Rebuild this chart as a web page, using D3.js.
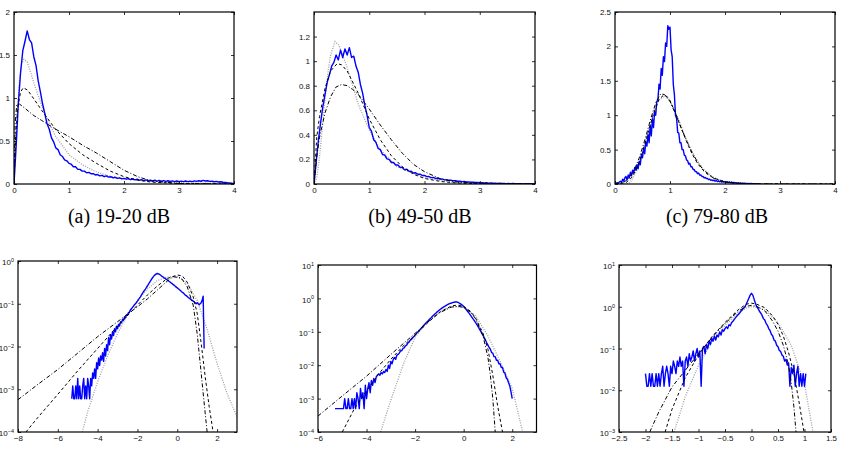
<!DOCTYPE html>
<html>
<head>
<meta charset="utf-8">
<script src="https://cdn.jsdelivr.net/npm/d3@7"></script>
<style>
body { margin: 0; background: #fff; }
svg { display: block; }
</style>
</head>
<body>
<script>
// ---- data ----
const captions = ["(a) 19-20 dB", "(b) 49-50 dB", "(c) 79-80 dB"];

// measured histograms (blue), bins start at x0 with width dx
const aBlue = { x0: 0, dx: 0.04, v: [
  0, 0.45, 0.95, 1.30, 1.55, 1.66, 1.78, 1.68, 1.64, 1.48,
  1.38, 1.20, 1.07, 0.93, 0.82, 0.70, 0.64, 0.54, 0.49, 0.42,
  0.40, 0.34, 0.32, 0.28, 0.27, 0.24, 0.23, 0.20, 0.20, 0.17,
  0.17, 0.15, 0.15, 0.13, 0.135, 0.12, 0.12, 0.105, 0.11, 0.095,
  0.10, 0.085, 0.095, 0.08, 0.085, 0.072, 0.078, 0.065, 0.072, 0.06,
  0.066, 0.056, 0.062, 0.05, 0.058, 0.048, 0.055, 0.045, 0.05, 0.04,
  0.048, 0.038, 0.045, 0.036, 0.044, 0.034, 0.042, 0.032, 0.04, 0.03,
  0.038, 0.029, 0.036, 0.028, 0.035, 0.027, 0.034, 0.027, 0.035, 0.028,
  0.034, 0.028, 0.036, 0.03, 0.038, 0.032, 0.042, 0.035, 0.038, 0.03,
  0.032, 0.026, 0.03, 0.023, 0.026, 0.02, 0.018, 0.014, 0.012, 0.008,
  0.004] };

const bBlue = { x0: 0, dx: 0.04, v: [
  0, 0.18, 0.36, 0.50, 0.63, 0.73, 0.83, 0.89, 0.96, 0.99,
  1.05, 1.01, 1.09, 1.03, 1.10, 1.05, 1.11, 1.03, 1.04, 0.96,
  0.91, 0.81, 0.74, 0.64, 0.56, 0.46, 0.43, 0.36, 0.34, 0.29,
  0.28, 0.24, 0.235, 0.205, 0.2, 0.175, 0.175, 0.155, 0.155, 0.135,
  0.135, 0.115, 0.12, 0.103, 0.104, 0.09, 0.092, 0.079, 0.08, 0.069,
  0.07, 0.06, 0.061, 0.052, 0.054, 0.045, 0.047, 0.04, 0.041, 0.034,
  0.036, 0.03, 0.031, 0.026, 0.027, 0.022, 0.023, 0.019, 0.02, 0.016,
  0.017, 0.014, 0.015, 0.012, 0.013, 0.01, 0.011, 0.008, 0.01, 0.007,
  0.008, 0.006, 0.007, 0.005, 0.006, 0.004, 0.005, 0.003, 0.005, 0.003,
  0.004, 0.002, 0.003, 0.002, 0.003, 0.001, 0.002, 0.002, 0.001, 0.001,
  0.001] };

const cBlue = { x0: 0, dx: 0.02, v: [
  0, 0.01, 0.02, 0.01, 0.03, 0.04, 0.02, 0.07, 0.04, 0.09,
  0.11, 0.06, 0.13, 0.09, 0.17, 0.12, 0.20, 0.16, 0.24, 0.20,
  0.28, 0.22, 0.33, 0.28, 0.43, 0.38, 0.52, 0.44, 0.61, 0.55,
  0.72, 0.60, 0.85, 0.70, 0.95, 0.82, 1.05, 1.00, 1.20, 1.22,
  1.45, 1.38, 1.68, 1.58, 1.85, 1.78, 2.05, 2.00, 2.30, 2.25,
  2.28, 1.95, 1.85, 1.45, 1.30, 1.00, 0.95, 0.75, 0.74, 0.60,
  0.60, 0.50, 0.50, 0.42, 0.41, 0.35, 0.34, 0.29, 0.30, 0.25,
  0.25, 0.21, 0.21, 0.18, 0.18, 0.15, 0.16, 0.13, 0.13, 0.11,
  0.11, 0.09, 0.095, 0.08, 0.08, 0.065, 0.07, 0.055, 0.06, 0.048,
  0.055, 0.04, 0.05, 0.036, 0.045, 0.032, 0.04, 0.028, 0.037, 0.026,
  0.034, 0.022, 0.032, 0.02, 0.03, 0.016, 0.028, 0.014, 0.024, 0.012,
  0.02, 0.01, 0.018, 0.009, 0.016, 0.008, 0.014, 0.007, 0.012, 0.006,
  0.01, 0.005, 0.008, 0.004, 0.007, 0.003, 0.005, 0.002, 0.004, 0.002,
  0.002] };

const dBlue = { x0: -5.3, dx: 0.05, v: [
  6e-4, 1.2e-3, 6e-4, 6e-4, 1.2e-3, 6e-4, 1.8e-3, 6e-4, 1.2e-3, 6e-4,
  6e-4, 1.2e-3, 1.8e-3, 6e-4, 1.2e-3, 6e-4, 1.8e-3, 1.2e-3, 6e-4, 1.8e-3,
  1.2e-3, 2.4e-3, 1.8e-3, 3e-3, 1.8e-3, 4.2e-3, 3e-3, 5.4e-3, 3.6e-3, 6e-3,
  4.8e-3, 7.2e-3, 4.5e-3, 9e-3, 6e-3, 0.011, 0.008, 0.016, 0.011, 0.019,
  0.015, 0.022, 0.018, 0.026, 0.022, 0.03, 0.026, 0.033, 0.03, 0.038,
  0.036, 0.043, 0.041, 0.049, 0.047, 0.055, 0.054, 0.062, 0.064, 0.072,
  0.076, 0.082, 0.088, 0.095, 0.1, 0.107, 0.115, 0.125, 0.135, 0.145,
  0.16, 0.175, 0.19, 0.205, 0.22, 0.24, 0.26, 0.285, 0.31, 0.34,
  0.37, 0.40, 0.43, 0.46, 0.48, 0.50, 0.51, 0.50, 0.49, 0.47,
  0.45, 0.43, 0.42, 0.40, 0.39, 0.37, 0.36, 0.345, 0.33, 0.32,
  0.305, 0.295, 0.28, 0.27, 0.255, 0.245, 0.235, 0.225, 0.215, 0.205,
  0.195, 0.185, 0.18, 0.17, 0.16, 0.155, 0.148, 0.14, 0.135, 0.13,
  0.125, 0.12, 0.115, 0.11, 0.105, 0.10, 0.105, 0.10, 0.095, 0.10,
  0.105, 0.12, 0.15, 0.009] };

const eBlue = { x0: -5.3, dx: 0.05, v: [
  5e-4, 5e-4, 5e-4, 5e-4, 5e-4, 5e-4, 5e-4, 5e-4, 1e-3, 5e-4,
  5e-4, 1e-3, 5e-4, 5e-4, 1e-3, 5e-4, 1e-3, 5e-4, 1.5e-3, 1e-3,
  5e-4, 2e-3, 1e-3, 1.5e-3, 5e-4, 2.5e-3, 1e-3, 2e-3, 3e-3, 1.5e-3,
  3.5e-3, 2.5e-3, 4e-3, 3e-3, 4.5e-3, 5e-3, 5.5e-3, 5e-3, 6e-3, 5.5e-3,
  6.5e-3, 6e-3, 7.5e-3, 6.5e-3, 1e-2, 8e-3, 1.3e-2, 1.1e-2, 1.5e-2, 1.7e-2,
  1.5e-2, 2e-2, 2.1e-2, 2.3e-2, 2.7e-2, 2.7e-2, 3.2e-2, 3.3e-2, 3.8e-2, 4e-2,
  4.6e-2, 4.9e-2, 5.6e-2, 5.9e-2, 6.7e-2, 7.2e-2, 8e-2, 8.8e-2, 9.7e-2, 0.106,
  0.116, 0.127, 0.14, 0.155, 0.17, 0.185, 0.2, 0.22, 0.24, 0.26,
  0.285, 0.31, 0.335, 0.36, 0.39, 0.42, 0.45, 0.48, 0.51, 0.54,
  0.57, 0.6, 0.63, 0.66, 0.69, 0.71, 0.73, 0.75, 0.77, 0.78,
  0.79, 0.77, 0.74, 0.7, 0.66, 0.62, 0.57, 0.52, 0.47, 0.42,
  0.38, 0.34, 0.3, 0.265, 0.235, 0.21, 0.185, 0.16, 0.14, 0.12,
  0.105, 0.09, 0.078, 0.066, 0.056, 0.047, 0.04, 0.034, 0.03, 0.024,
  0.023, 0.018, 0.018, 0.014, 0.014, 0.011, 0.011, 0.0085, 0.0085, 0.0062,
  0.0058, 0.0042, 0.0038, 0.003, 0.0024, 0.0016, 0.001] };

const fBlue = { x0: -2.0, dx: 0.025, v: [
  0.025, 0.0125, 0.0125, 0.025, 0.0125, 0.025, 0.0125, 0.0125, 0.025, 0.0125,
  0.025, 0.0125, 0.025, 0.0375, 0.0125, 0.025, 0.0375, 0.025, 0.0125, 0.0375,
  0.025, 0.05, 0.0375, 0.025, 0.05, 0.0375, 0.0625, 0.0375, 0.05, 0.0125,
  0.05, 0.0625, 0.0375, 0.075, 0.05, 0.0625, 0.0875, 0.05, 0.075, 0.1,
  0.0625, 0.0875, 0.0125, 0.1, 0.1125, 0.075, 0.125, 0.1, 0.15, 0.125,
  0.175, 0.15, 0.2, 0.16, 0.21, 0.19, 0.25, 0.21, 0.28, 0.26,
  0.3, 0.33, 0.3, 0.37, 0.35, 0.42, 0.45, 0.5, 0.55, 0.6,
  0.65, 0.7, 0.78, 0.85, 0.92, 1.0, 1.15, 1.35, 1.6, 1.9,
  2.1, 1.9, 1.5, 1.2, 1.0, 0.9, 0.78, 0.7, 0.62, 0.52,
  0.48, 0.4, 0.36, 0.3, 0.27, 0.22, 0.2, 0.16, 0.15, 0.12,
  0.11, 0.09, 0.085, 0.07, 0.065, 0.05, 0.055, 0.04, 0.045, 0.0125,
  0.035, 0.025, 0.04, 0.0125, 0.025, 0.0375, 0.0125, 0.025, 0.0125, 0.025,
  0.0125, 0.025] };

// fitted models: dashed, dash-dot, dotted
const aDashedX = [0, 0.03, 0.07, 0.12, 0.17, 0.25, 0.35, 0.5, 0.75, 1.0, 1.25, 1.5, 1.75, 2.0, 2.25, 2.5, 3.0, 3.5, 4.0];
const aDashedY = [0, 0.55, 0.9, 1.07, 1.12, 1.09, 1.0, 0.86, 0.64, 0.47, 0.34, 0.24, 0.15, 0.085, 0.045, 0.022, 0.006, 0.002, 0.001];
const aDashDotX = [0, 0.02, 0.05, 0.1, 0.2, 0.35, 0.5, 0.75, 1.0, 1.25, 1.5, 1.75, 2.0, 2.25, 2.5, 3.0, 4.0];
const aDashDotY = [0, 0.7, 0.92, 0.93, 0.88, 0.8, 0.74, 0.64, 0.55, 0.45, 0.36, 0.26, 0.16, 0.085, 0.035, 0.006, 0];
const aDottedX = [0, 0.05, 0.1, 0.14, 0.18, 0.24, 0.3, 0.4, 0.5, 0.6, 0.75, 1.0, 1.25, 1.5, 1.75, 2.0, 2.5, 3.0, 4.0];
const aDottedY = [0, 0.75, 1.2, 1.4, 1.45, 1.42, 1.3, 1.1, 0.92, 0.76, 0.56, 0.34, 0.22, 0.14, 0.09, 0.06, 0.03, 0.015, 0.004];

const bDashedX = [0, 0.05, 0.1, 0.2, 0.3, 0.42, 0.5, 0.6, 0.7, 0.8, 1.0, 1.2, 1.4, 1.6, 1.8, 2.0, 2.3, 2.6, 3.0, 4.0];
const bDashedY = [0, 0.38, 0.55, 0.78, 0.92, 0.98, 0.97, 0.92, 0.83, 0.74, 0.53, 0.36, 0.23, 0.14, 0.08, 0.045, 0.02, 0.008, 0.002, 0];
const bDashDotX = [0, 0.05, 0.1, 0.2, 0.3, 0.4, 0.5, 0.6, 0.7, 0.8, 1.0, 1.2, 1.4, 1.6, 1.8, 2.0, 2.3, 2.6, 3.0, 4.0];
const bDashDotY = [0, 0.22, 0.38, 0.58, 0.71, 0.79, 0.81, 0.8, 0.77, 0.73, 0.61, 0.48, 0.36, 0.25, 0.16, 0.1, 0.04, 0.015, 0.004, 0];
const bDottedX = [0, 0.05, 0.1, 0.15, 0.2, 0.25, 0.3, 0.38, 0.45, 0.6, 0.8, 1.0, 1.2, 1.5, 2.0, 2.5, 3.0, 4.0];
const bDottedY = [0, 0.05, 0.22, 0.45, 0.7, 0.9, 1.05, 1.16, 1.13, 0.95, 0.65, 0.44, 0.28, 0.14, 0.05, 0.015, 0.005, 0];

const cDashedX = [0, 0.2, 0.3, 0.4, 0.5, 0.6, 0.7, 0.8, 0.88, 0.95, 1.0, 1.1, 1.2, 1.3, 1.4, 1.5, 1.6, 1.7, 1.8, 2.0, 2.2, 2.5, 3.0, 4.0];
const cDashedY = [0, 0.02, 0.09, 0.23, 0.46, 0.74, 1.02, 1.23, 1.29, 1.27, 1.21, 1.03, 0.82, 0.62, 0.44, 0.3, 0.2, 0.13, 0.085, 0.03, 0.01, 0.003, 0.001, 0];
const cDashDotX = [0, 0.15, 0.25, 0.35, 0.45, 0.55, 0.65, 0.75, 0.83, 0.9, 1.0, 1.1, 1.2, 1.3, 1.4, 1.5, 1.6, 1.8, 2.0, 2.3, 3.0, 4.0];
const cDashDotY = [0, 0.02, 0.08, 0.2, 0.4, 0.66, 0.95, 1.2, 1.31, 1.3, 1.2, 1.02, 0.82, 0.63, 0.46, 0.32, 0.21, 0.08, 0.03, 0.006, 0, 0];
const cDottedX = [0, 0.24, 0.3, 0.4, 0.5, 0.6, 0.7, 0.8, 0.9, 1.0, 1.1, 1.2, 1.3, 1.4, 1.5, 1.6, 1.8, 2.0, 2.3, 3.0, 4.0];
const cDottedY = [0, 0, 0.05, 0.2, 0.45, 0.75, 1.03, 1.22, 1.28, 1.22, 1.05, 0.85, 0.65, 0.47, 0.33, 0.22, 0.09, 0.035, 0.008, 0, 0];

const dDashedX = [-7.6, -7, -6, -5, -4, -3, -2, -1.5, -1, -0.5, 0, 0.25, 0.5, 0.8, 1.0, 1.2, 1.4, 1.6, 1.8];
const dDashedY = [1e-4, 2.2e-4, 7.6e-4, 2.7e-3, 9e-3, 0.03, 0.093, 0.16, 0.26, 0.39, 0.47, 0.45, 0.32, 0.145, 0.06, 0.012, 2e-3, 4e-4, 1e-4];
const dDashDotX = [-8, -7, -6, -5, -4, -3, -2, -1.5, -1, -0.5, -0.2, 0.2, 0.5, 0.8, 1.0, 1.2, 1.4, 1.5];
const dDashDotY = [5.7e-4, 1.3e-3, 2.9e-3, 7e-3, 0.017, 0.038, 0.085, 0.13, 0.21, 0.34, 0.43, 0.4, 0.25, 0.093, 0.02, 2.4e-3, 2.8e-4, 1e-4];
const dDottedX = [-4.77, -4.5, -4, -3.5, -3, -2.5, -2, -1.5, -1, -0.5, 0, 0.5, 1, 1.5, 2, 2.5, 3];
const dDottedY = [1e-4, 3e-4, 1.5e-3, 6e-3, 0.02, 0.055, 0.12, 0.22, 0.35, 0.42, 0.43, 0.3, 0.12, 0.025, 4e-3, 8e-4, 2.3e-4];

const eDashedX = [-5, -4.5, -4, -3.5, -3, -2.5, -2, -1.5, -1, -0.5, -0.25, 0, 0.3, 0.5, 0.8, 1.0, 1.2, 1.4, 1.6];
const eDashedY = [1e-4, 5e-4, 1.7e-3, 5.5e-3, 0.015, 0.037, 0.08, 0.18, 0.38, 0.6, 0.63, 0.58, 0.4, 0.25, 0.09, 0.03, 5e-3, 6e-4, 1e-4];
const eDashDotX = [-6, -5, -4, -3, -2, -1.5, -1, -0.5, -0.25, 0, 0.3, 0.5, 0.8, 1.0, 1.1, 1.2, 1.3];
const eDashDotY = [3e-4, 1.2e-3, 4.7e-3, 0.021, 0.09, 0.19, 0.37, 0.55, 0.58, 0.54, 0.38, 0.24, 0.075, 0.017, 5e-3, 1e-3, 1e-4];
const eDottedX = [-3.42, -3, -2.5, -2, -1.5, -1, -0.5, -0.25, 0, 0.5, 1, 1.5, 2, 2.43];
const eDottedY = [1e-4, 9e-4, 0.01, 0.07, 0.2, 0.42, 0.55, 0.56, 0.53, 0.3, 0.075, 0.013, 2e-3, 1e-4];

const fDashedX = [-1.63, -1.5, -1.25, -1, -0.75, -0.5, -0.25, -0.1, 0, 0.1, 0.25, 0.4, 0.5, 0.6, 0.7, 0.8, 0.9, 0.99];
const fDashedY = [1e-3, 3.5e-3, 0.02, 0.07, 0.19, 0.42, 0.85, 1.15, 1.22, 1.15, 0.95, 0.6, 0.38, 0.2, 0.08, 0.025, 5e-3, 1e-3];
const fDashDotX = [-1.92, -1.75, -1.5, -1.25, -1, -0.75, -0.5, -0.25, -0.1, 0, 0.1, 0.25, 0.4, 0.5, 0.6, 0.7, 0.75, 0.8, 0.84];
const fDashDotY = [1e-3, 3e-3, 0.012, 0.03, 0.075, 0.18, 0.4, 0.78, 1.02, 1.08, 1.02, 0.8, 0.45, 0.26, 0.12, 0.04, 0.015, 4e-3, 1e-3];
const fDottedX = [-1.46, -1.25, -1, -0.75, -0.5, -0.25, -0.1, 0, 0.1, 0.25, 0.5, 0.75, 1, 1.16];
const fDottedY = [1e-3, 7e-3, 0.04, 0.14, 0.36, 0.72, 0.93, 1.0, 0.98, 0.85, 0.42, 0.12, 0.014, 1e-3];

// tick values
const linXTicks = [0, 1, 2, 3, 4];
const aYTicks = [0, 0.5, 1, 1.5, 2];
const bYTicks = [0, 0.2, 0.4, 0.6, 0.8, 1, 1.2];
const cYTicks = [0, 0.5, 1, 1.5, 2, 2.5];
const dXTicks = [-8, -6, -4, -2, 0, 2];
const eXTicks = [-6, -4, -2, 0, 2];
const fXTicks = [-2.5, -2, -1.5, -1, -0.5, 0, 0.5, 1, 1.5];
const dYTicks = [1e-4, 1e-3, 1e-2, 1e-1, 1];
const eYTicks = [1e-4, 1e-3, 1e-2, 1e-1, 1, 10];
const fYTicks = [1e-3, 1e-2, 1e-1, 1, 10];

// ---- layout ----
const W = 842, H = 450;
const panels = [
  { box: [14, 234, 12, 184], xd: [0, 4], yd: [0, 2], log: false, xt: linXTicks, yt: aYTicks,
    blue: aBlue, dashed: [aDashedX, aDashedY], dashdot: [aDashDotX, aDashDotY], dotted: [aDottedX, aDottedY] },
  { box: [314, 535, 12, 184], xd: [0, 4], yd: [0, 1.4], log: false, xt: linXTicks, yt: bYTicks,
    blue: bBlue, dashed: [bDashedX, bDashedY], dashdot: [bDashDotX, bDashDotY], dotted: [bDottedX, bDottedY] },
  { box: [615, 835, 12, 184], xd: [0, 4], yd: [0, 2.5], log: false, xt: linXTicks, yt: cYTicks,
    blue: cBlue, dashed: [cDashedX, cDashedY], dashdot: [cDashDotX, cDashDotY], dotted: [cDottedX, cDottedY] },
  { box: [18, 237, 261, 432], xd: [-8, 3], yd: [1e-4, 1], log: true, xt: dXTicks, yt: dYTicks,
    blue: dBlue, dashed: [dDashedX, dDashedY], dashdot: [dDashDotX, dDashDotY], dotted: [dDottedX, dDottedY] },
  { box: [318, 536.5, 265, 432], xd: [-6, 3], yd: [1e-4, 10], log: true, xt: eXTicks, yt: eYTicks,
    blue: eBlue, dashed: [eDashedX, eDashedY], dashdot: [eDashDotX, eDashDotY], dotted: [eDottedX, eDottedY] },
  { box: [619, 831, 265, 432], xd: [-2.5, 1.5], yd: [1e-3, 10], log: true, xt: fXTicks, yt: fYTicks,
    blue: fBlue, dashed: [fDashedX, fDashedY], dashdot: [fDashDotX, fDashDotY], dotted: [fDottedX, fDottedY] }
];
const captionX = [119, 420, 717];

const svg = d3.select('body').append('svg')
  .attr('width', W)
  .attr('height', H)
  .style('background', '#fff');

const tickFont = "'Liberation Sans', Arial, sans-serif";
const minus = (s) => String(s).replace('-', '\u2212');

panels.forEach((p, k) => {
  const [x0, x1, y0, y1] = p.box;
  const x = d3.scaleLinear().domain(p.xd).range([x0, x1]);
  const y = (p.log ? d3.scaleLog() : d3.scaleLinear()).domain(p.yd).range([y1, y0]);
  const g = svg.append('g');

  g.append('clipPath').attr('id', 'clip' + k)
    .append('rect').attr('x', x0).attr('y', y0).attr('width', x1 - x0).attr('height', y1 - y0);
  const plot = g.append('g').attr('clip-path', 'url(#clip' + k + ')');

  const fitLine = d3.line().x(d => x(d[0])).y(d => y(d[1]));
  const pairs = (xs, ys) => xs.map((v, i) => [v, ys[i]]);

  // gray dotted model
  plot.append('path')
    .attr('d', fitLine(pairs(p.dotted[0], p.dotted[1])))
    .attr('fill', 'none').attr('stroke', '#a0a0a0').attr('stroke-width', 1.3)
    .attr('stroke-dasharray', '1,1.4');

  // measured (blue)
  const blueLine = d3.line()
    .x((v, i) => x(p.blue.x0 + i * p.blue.dx))
    .y(v => y(v));
  plot.append('path')
    .attr('d', blueLine(p.blue.v))
    .attr('fill', 'none').attr('stroke', '#0000ff').attr('stroke-width', 1.4)
    .attr('stroke-linejoin', 'round');

  // black dashed and dash-dot models
  plot.append('path')
    .attr('d', fitLine(pairs(p.dashed[0], p.dashed[1])))
    .attr('fill', 'none').attr('stroke', '#000').attr('stroke-width', 1)
    .attr('stroke-dasharray', '3,2.5');
  plot.append('path')
    .attr('d', fitLine(pairs(p.dashdot[0], p.dashdot[1])))
    .attr('fill', 'none').attr('stroke', '#000').attr('stroke-width', 1)
    .attr('stroke-dasharray', '4,2,1,2');

  // axes, MATLAB style: ticks inside on all four sides
  const bottom = g.append('g').attr('transform', `translate(0,${y1})`)
    .call(d3.axisBottom(x).tickValues(p.xt).tickSizeInner(-3).tickSizeOuter(0).tickPadding(3)
      .tickFormat(d => minus(d)));
  const top = g.append('g').attr('transform', `translate(0,${y0})`)
    .call(d3.axisTop(x).tickValues(p.xt).tickSizeInner(-3).tickSizeOuter(0).tickFormat(''));
  const left = g.append('g').attr('transform', `translate(${x0},0)`)
    .call(d3.axisLeft(y).tickValues(p.yt).tickSizeInner(-3).tickSizeOuter(0).tickPadding(4)
      .tickFormat(d => p.log ? '' : String(d)));
  const right = g.append('g').attr('transform', `translate(${x1},0)`)
    .call(d3.axisRight(y).tickValues(p.yt).tickSizeInner(-3).tickSizeOuter(0).tickFormat(''));

  [bottom, top, left, right].forEach(a => {
    a.select('.domain').remove();
    a.selectAll('.tick line').attr('stroke', '#000').attr('stroke-width', 0.8);
    a.selectAll('text').attr('font-family', tickFont).attr('font-size', 8).attr('fill', '#111');
  });

  if (p.log) {
    left.selectAll('.tick text').each(function (d) {
      const t = d3.select(this).text('').attr('dy', '0.45em');
      t.append('tspan').text('10');
      t.append('tspan').attr('dy', '-0.55em').attr('font-size', 5.5)
        .text(minus(Math.round(Math.log10(d))));
    });
  }

  g.append('rect')
    .attr('x', x0).attr('y', y0).attr('width', x1 - x0).attr('height', y1 - y0)
    .attr('fill', 'none').attr('stroke', '#000').attr('stroke-width', 1.2);
});

// sub-figure captions
svg.selectAll('text.caption')
  .data(captions)
  .enter()
  .append('text')
  .attr('class', 'caption')
  .attr('x', (d, i) => captionX[i])
  .attr('y', 223)
  .attr('text-anchor', 'middle')
  .attr('font-family', "'Liberation Serif', 'DejaVu Serif', serif")
  .attr('font-size', 20)
  .attr('fill', '#000')
  .text(d => d);
</script>
</body>
</html>
